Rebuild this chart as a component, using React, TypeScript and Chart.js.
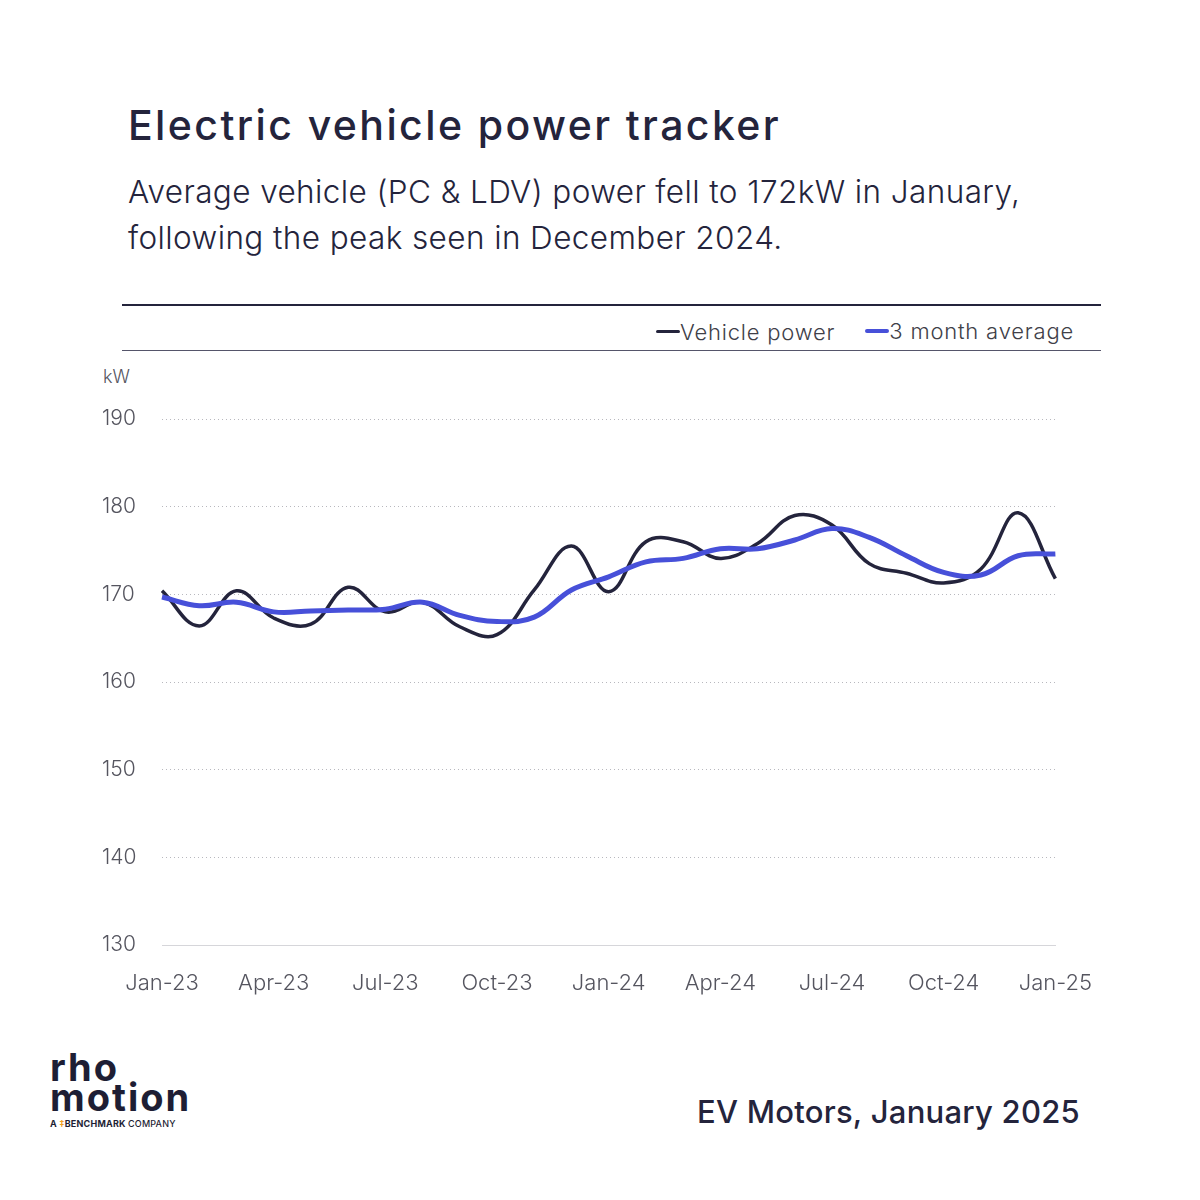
import { useEffect, useRef } from 'react'
import { Chart, registerables } from 'chart.js'

Chart.register(...registerables)

// months Jan-23 .. Jan-25
const months = [
  'Jan-23', 'Feb-23', 'Mar-23', 'Apr-23', 'May-23', 'Jun-23', 'Jul-23', 'Aug-23', 'Sep-23',
  'Oct-23', 'Nov-23', 'Dec-23', 'Jan-24', 'Feb-24', 'Mar-24', 'Apr-24', 'May-24', 'Jun-24',
  'Jul-24', 'Aug-24', 'Sep-24', 'Oct-24', 'Nov-24', 'Dec-24', 'Jan-25',
]

// kW
const vehiclePower = [
  170.4, 166.4, 170.4, 167.3, 166.6, 170.8, 168.0, 169.1, 166.3,
  165.4, 170.5, 175.5, 170.3, 176.0, 176.0, 174.1, 175.8, 179.0,
  177.9, 173.5, 172.4, 171.3, 172.9, 179.3, 171.8,
]

const threeMonthAvg = [
  169.7, 168.7, 169.1, 168.0, 168.1, 168.2, 168.3, 169.1, 167.6,
  166.9, 167.4, 170.5, 172.0, 173.7, 174.1, 175.2, 175.2, 176.2,
  177.5, 176.5, 174.4, 172.5, 172.2, 174.4, 174.6,
]

// labels shown on the x axis (every third month)
const shownTicks = ['Jan-23', 'Apr-23', 'Jul-23', 'Oct-23', 'Jan-24', 'Apr-24', 'Jul-24', 'Oct-24', 'Jan-25']

const FONT = 'Inter, "Noto Sans", sans-serif'
const NAVY = '#24243c'
const BLUE = '#4750d9'
const GREY = '#55555f'

function PowerChart() {
  const chartRef = useRef<HTMLCanvasElement>(null)
  const chartInstance = useRef<Chart | null>(null)

  useEffect(() => {
    if (!chartRef.current) return
    if (chartInstance.current) chartInstance.current.destroy()
    const ctx = chartRef.current.getContext('2d')
    if (!ctx) return

    chartInstance.current = new Chart(ctx, {
      type: 'line',
      data: {
        labels: months,
        datasets: [
          {
            label: 'Vehicle power',
            data: vehiclePower,
            borderColor: NAVY,
            borderWidth: 3.5,
            tension: 0.4,
            pointRadius: 0,
            order: 1,
          },
          {
            label: '3 month average',
            data: threeMonthAvg,
            borderColor: BLUE,
            borderWidth: 5,
            tension: 0.4,
            pointRadius: 0,
            order: 0,
          },
        ],
      },
      options: {
        animation: false,
        responsive: false,
        maintainAspectRatio: false,
        layout: { padding: { left: 12, right: 52, top: 19, bottom: 0 } },
        plugins: {
          legend: { display: false },
          tooltip: { enabled: false },
        },
        scales: {
          x: {
            grid: { display: false, drawTicks: false },
            border: { display: true, color: '#d6d6da', width: 1 },
            afterFit: (scale: any) => { scale.height = 55 },
            ticks: {
              autoSkip: false,
              maxRotation: 0,
              padding: 25,
              color: GREY,
              font: { family: FONT, size: 22, weight: 300 },
              callback: function (this: any, _v: any, i: number) {
                const l = months[i]
                return shownTicks.includes(l) ? l : ''
              },
            },
          },
          y: {
            min: 130,
            max: 190,
            afterFit: (scale: any) => { scale.width = 60 },
            border: { display: false, dash: [1, 3] },
            grid: {
              drawTicks: false,
              color: (c: any) => (c.tick && c.tick.value === 130 ? 'rgba(0,0,0,0)' : '#b8b8be'),
              lineWidth: 1,
            },
            ticks: {
              stepSize: 10,
              crossAlign: 'far',
              color: GREY,
              font: { family: FONT, size: 21, weight: 300 },
            },
          },
        },
      },
    })

    return () => {
      if (chartInstance.current) {
        chartInstance.current.destroy()
        chartInstance.current = null
      }
    }
  }, [])

  return <canvas ref={chartRef} width={1027} height={600} style={{ position: 'absolute', left: 90, top: 400, width: 1027, height: 600 }} />
}

function LegendItem({ color, label, w }: { color: string; label: string; w: number }) {
  return (
    <span style={{ display: 'inline-flex', alignItems: 'center', marginLeft: 30 }}>
      <span style={{ display: 'inline-block', width: 24, height: w, borderRadius: 2, background: color }} />
      <span>{label}</span>
    </span>
  )
}

export default function App() {
  return (
    <div style={{ position: 'absolute', left: 0, top: 0, width: 1200, height: 1200, background: '#fff', fontFamily: FONT, color: NAVY, overflow: 'hidden' }}>
      <div style={{ position: 'absolute', left: 128, top: 100, fontSize: 41, fontWeight: 500, letterSpacing: 2.4 }}>
        Electric vehicle power tracker
      </div>
      <div style={{ position: 'absolute', left: 128, top: 169, fontSize: 31.5, lineHeight: '46px', fontWeight: 300, letterSpacing: 0.4 }}>
        Average vehicle (PC &amp; LDV) power fell to 172kW in January,<br />
        following the peak seen in December 2024.
      </div>

      <div style={{ position: 'absolute', left: 122, top: 304, width: 979, height: 2, background: NAVY }} />
      <div style={{ position: 'absolute', right: 126, top: 310, fontSize: 22, fontWeight: 300, letterSpacing: 0.8, color: '#404048', lineHeight: '30px' }}>
        <LegendItem color={NAVY} label="Vehicle power" w={3} />
        <LegendItem color={BLUE} label="3 month average" w={4} />
      </div>
      <div style={{ position: 'absolute', left: 122, top: 350, width: 979, height: 1, background: '#55556a' }} />

      <div style={{ position: 'absolute', left: 103, top: 366, fontSize: 18, fontWeight: 300, color: GREY }}>kW</div>

      <PowerChart />

      <div style={{ position: 'absolute', left: 50, top: 1052, color: '#1e1e34', fontWeight: 700, fontSize: 38, lineHeight: '30px', letterSpacing: 2 }}>
        <div>rho</div>
        <div>motion</div>
        <div style={{ fontSize: 9, lineHeight: '14px', fontWeight: 700, letterSpacing: 0.2, marginTop: 5 }}>
          A <span style={{ color: '#f0a020' }}>‡</span>BENCHMARK <span style={{ fontWeight: 500 }}>COMPANY</span>
        </div>
      </div>

      <div style={{ position: 'absolute', right: 120, top: 1093, fontSize: 31, fontWeight: 500, letterSpacing: 0.25 }}>
        EV Motors, January 2025
      </div>
    </div>
  )
}
